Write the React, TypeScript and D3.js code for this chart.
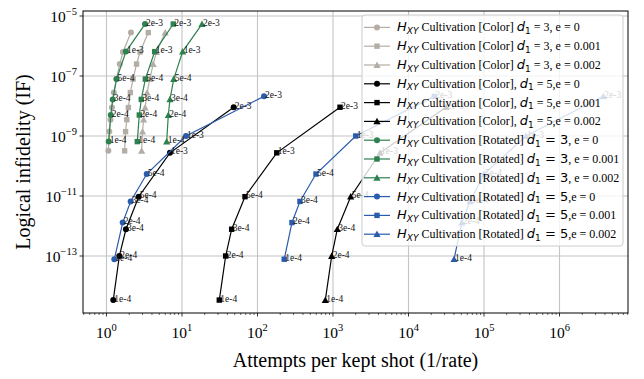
import * as d3 from "d3";

// ---- data ----
const POINT_LABELS = ["1e-4", "2e-4", "3e-4", "5e-4", "1e-3", "2e-3"];

// Color d1=3 (gray, unlabelled, 9 points)
const colorD3Y = [3.2e-10, 1.4e-9, 3.5e-9, 8.9e-9, 2.8e-8, 7.9e-8, 2.5e-7, 6.3e-7, 2.8e-6];
const colorD3E0X = [1.06, 1.09, 1.13, 1.18, 1.25, 1.35, 1.5, 1.65, 2.11];
const colorD3E1X = [1.74, 1.79, 1.86, 1.95, 2.07, 2.25, 2.5, 2.78, 3.58];
const colorD3E2X = [2.92, 3.0, 3.1, 3.25, 3.45, 3.75, 4.15, 4.6, 6.0];

// Color d1=5 (black)
const colorD5Y = [3.4e-15, 1.0e-13, 7.8e-13, 9.5e-12, 2.75e-10, 9.1e-9];
const colorD5E0X = [1.23, 1.48, 1.81, 2.67, 6.93, 48.4];
const colorD5E1X = [31.2, 37.9, 45.5, 68.3, 180, 1238];
const colorD5E2X = [791, 961, 1140, 1715, 4194, 31400];

// Rotated d1=3 (green)
const rotD3Y = [6.5e-10, 5.0e-9, 1.66e-8, 7.9e-8, 6.5e-7, 5.4e-6];
const rotD3E0X = [1.07, 1.14, 1.21, 1.36, 1.81, 3.24];
const rotD3E1X = [2.56, 2.72, 2.89, 3.27, 4.35, 7.67];
const rotD3E2X = [6.27, 6.59, 6.93, 7.77, 10.2, 18.4];

// Rotated d1=5 (blue)
const rotD5Y = [7.8e-14, 1.3e-12, 6.6e-12, 5.4e-11, 1.0e-9, 2.1e-8];
const rotD5E0X = [1.27, 1.64, 2.09, 3.41, 11.3, 122];
const rotD5E1X = [226, 286, 365, 595, 2000, 21960];
const rotD5E2X = [40100, 50700, 65300, 100000, 360000, 3.8e6];

const X_TICKS = [1, 10, 100, 1e3, 1e4, 1e5, 1e6];
const X_TICK_EXP = ["0", "1", "2", "3", "4", "5", "6"];
const Y_TICKS = [1e-5, 1e-7, 1e-9, 1e-11, 1e-13];
const Y_TICK_EXP = ["\u22125", "\u22127", "\u22129", "\u221211", "\u221213"];

const GRAY = "#b3ada5";
const BLACK = "#000000";
const GREEN = "#2e8050";
const BLUE = "#2a5cad";

type Marker = "circle" | "square" | "triangle";
interface Series {
  xs: number[];
  ys: number[];
  color: string;
  marker: Marker;
  labelled: boolean;
  kind: "color3" | "color5" | "rot3" | "rot5";
  e: string;
}

const series: Series[] = [
  { xs: colorD3E0X, ys: colorD3Y, color: GRAY, marker: "circle", labelled: false, kind: "color3", e: "0" },
  { xs: colorD3E1X, ys: colorD3Y, color: GRAY, marker: "square", labelled: false, kind: "color3", e: "0.001" },
  { xs: colorD3E2X, ys: colorD3Y, color: GRAY, marker: "triangle", labelled: false, kind: "color3", e: "0.002" },
  { xs: colorD5E0X, ys: colorD5Y, color: BLACK, marker: "circle", labelled: true, kind: "color5", e: "0" },
  { xs: colorD5E1X, ys: colorD5Y, color: BLACK, marker: "square", labelled: true, kind: "color5", e: "0.001" },
  { xs: colorD5E2X, ys: colorD5Y, color: BLACK, marker: "triangle", labelled: true, kind: "color5", e: "0.002" },
  { xs: rotD3E0X, ys: rotD3Y, color: GREEN, marker: "circle", labelled: true, kind: "rot3", e: "0" },
  { xs: rotD3E1X, ys: rotD3Y, color: GREEN, marker: "square", labelled: true, kind: "rot3", e: "0.001" },
  { xs: rotD3E2X, ys: rotD3Y, color: GREEN, marker: "triangle", labelled: true, kind: "rot3", e: "0.002" },
  { xs: rotD5E0X, ys: rotD5Y, color: BLUE, marker: "circle", labelled: true, kind: "rot5", e: "0" },
  { xs: rotD5E1X, ys: rotD5Y, color: BLUE, marker: "square", labelled: true, kind: "rot5", e: "0.001" },
  { xs: rotD5E2X, ys: rotD5Y, color: BLUE, marker: "triangle", labelled: true, kind: "rot5", e: "0.002" },
];

const W = 644;
const H = 379;
const PLOT = { left: 83, right: 628, top: 11, bottom: 313 };
const SERIF = "'Liberation Serif', 'Times New Roman', serif";
const MATH = "'DejaVu Sans', sans-serif";

const x = d3
  .scaleLog()
  .domain([Math.pow(10, -0.311), Math.pow(10, 6.907)])
  .range([PLOT.left, PLOT.right]);
const y = d3
  .scaleLog()
  .domain([Math.pow(10, -14.9), Math.pow(10, -4.833)])
  .range([PLOT.bottom, PLOT.top]);

function MarkerShape({ cx, cy, m, color }: { cx: number; cy: number; m: Marker; color: string }) {
  if (m === "circle") return <circle cx={cx} cy={cy} r={3} fill={color} />;
  if (m === "square")
    return <rect x={cx - 2.7} y={cy - 2.7} width={5.4} height={5.4} fill={color} />;
  const s = 3.6;
  return (
    <path
      d={`M${cx},${cy - s} L${cx + s},${cy + s * 0.8} L${cx - s},${cy + s * 0.8} Z`}
      fill={color}
    />
  );
}

function LegendText({ s, yy }: { s: Series; yy: number }) {
  const rot = s.kind === "rot3" || s.kind === "rot5";
  const d = s.kind === "color3" || s.kind === "rot3" ? "3" : "5";
  const comma = s.kind === "color5" ? "," : "";
  const sep = d === "3" ? ", " : ",";
  return (
    <text x={397} y={yy + 4} fontFamily={SERIF} fontSize={12} fill="#000">
      <tspan fontFamily={MATH} fontStyle="italic" fontSize={13}>H</tspan>
      <tspan fontFamily={MATH} fontStyle="italic" fontSize={9} dy={2.5}>XY</tspan>
      <tspan dy={-2.5}> Cultivation [{rot ? "Rotated" : "Color"}]{comma} </tspan>
      <tspan fontFamily={MATH} fontStyle="italic" fontSize={13}>d</tspan>
      <tspan fontFamily={MATH} fontSize={9} dy={2.5}>1</tspan>
      {rot ? (
        <tspan fontFamily={MATH} fontSize={13} dy={-2.5}>{` = ${d}`}</tspan>
      ) : (
        <tspan dy={-2.5}>{` = ${d}`}</tspan>
      )}
      <tspan>{`${sep}e = ${s.e}`}</tspan>
    </text>
  );
}

export default function App() {
  const line = d3
    .line<[number, number]>()
    .x((p) => x(p[0]))
    .y((p) => y(p[1]));

  const minorX: number[] = [];
  for (let e = -1; e <= 6; e++) {
    for (let k = 2; k <= 9; k++) {
      const v = k * Math.pow(10, e);
      if (x(v) >= PLOT.left && x(v) <= PLOT.right) minorX.push(v);
    }
  }

  const legendTop = 15;
  const rowH = 18.8;
  const firstRow = 27.4;

  return (
    <svg
      width={W}
      height={H}
      style={{ position: "absolute", left: 0, top: 0, background: "#fff" }}
    >
      <rect x={0} y={0} width={W} height={H} fill="#fff" />
      {/* grid */}
      {X_TICKS.map((t) => (
        <line key={"gx" + t} x1={x(t)} x2={x(t)} y1={PLOT.top} y2={PLOT.bottom} stroke="#c4c4c4" strokeWidth={1.1} />
      ))}
      {Y_TICKS.map((t) => (
        <line key={"gy" + t} x1={PLOT.left} x2={PLOT.right} y1={y(t)} y2={y(t)} stroke="#c4c4c4" strokeWidth={1.1} />
      ))}

      {/* series */}
      {series.map((s, i) => {
        const pts = s.xs.map((v, j) => [v, s.ys[j]] as [number, number]);
        return (
          <g key={"s" + i}>
            <path d={line(pts) || ""} fill="none" stroke={s.color} strokeWidth={1.2} />
            {pts.map((p, j) => (
              <MarkerShape key={j} cx={x(p[0])} cy={y(p[1])} m={s.marker} color={s.color} />
            ))}
          </g>
        );
      })}
      {/* point annotations */}
      {series
        .filter((s) => s.labelled)
        .map((s, i) =>
          s.xs.map((v, j) => (
            <text
              key={`a${i}-${j}`}
              x={x(v) + 1}
              y={y(s.ys[j]) + 1.5}
              fontFamily={SERIF}
              fontSize={9.5}
              fill="#111"
            >
              {POINT_LABELS[j]}
            </text>
          ))
        )}

      {/* axes frame */}
      <rect
        x={PLOT.left}
        y={PLOT.top}
        width={PLOT.right - PLOT.left}
        height={PLOT.bottom - PLOT.top}
        fill="none"
        stroke="#000"
        strokeWidth={1}
      />
      {X_TICKS.map((t, i) => (
        <g key={"xt" + t}>
          <line x1={x(t)} x2={x(t)} y1={PLOT.bottom} y2={PLOT.bottom + 3.5} stroke="#000" strokeWidth={0.8} />
          <text x={x(t)} y={338} textAnchor="middle" fontFamily={SERIF} fontSize={15.5} fill="#000">
            10
            <tspan fontSize={10.5} dy={-7}>{X_TICK_EXP[i]}</tspan>
          </text>
        </g>
      ))}
      {minorX.map((t) => (
        <line key={"mx" + t} x1={x(t)} x2={x(t)} y1={PLOT.bottom} y2={PLOT.bottom + 2} stroke="#000" strokeWidth={0.6} />
      ))}
      {Y_TICKS.map((t, i) => (
        <g key={"yt" + t}>
          <line x1={PLOT.left - 3.5} x2={PLOT.left} y1={y(t)} y2={y(t)} stroke="#000" strokeWidth={0.8} />
          <text x={77} y={y(t) + 6} textAnchor="end" fontFamily={SERIF} fontSize={15.5} fill="#000">
            10
            <tspan fontSize={10.5} dy={-7}>{Y_TICK_EXP[i]}</tspan>
          </text>
        </g>
      ))}

      {/* axis labels */}
      <text x={(PLOT.left + PLOT.right) / 2} y={367} textAnchor="middle" fontFamily={SERIF} fontSize={20} fill="#000">
        Attempts per kept shot (1/rate)
      </text>
      <text
        transform={`translate(30,${(PLOT.top + PLOT.bottom) / 2}) rotate(-90)`}
        textAnchor="middle"
        fontFamily={SERIF}
        fontSize={20}
        fill="#000"
      >
        Logical infidelity (IF)
      </text>

      {/* legend */}
      <rect
        x={362}
        y={legendTop}
        width={261}
        height={231}
        rx={3}
        fill="#fff"
        fillOpacity={0.8}
        stroke="#cccccc"
        strokeWidth={1}
      />
      {series.map((s, i) => {
        const yy = firstRow + i * rowH;
        return (
          <g key={"lg" + i}>
            <line x1={364} x2={390} y1={yy} y2={yy} stroke={s.color} strokeWidth={1.2} />
            <MarkerShape cx={377} cy={yy} m={s.marker} color={s.color} />
            <LegendText s={s} yy={yy} />
          </g>
        );
      })}
    </svg>
  );
}
